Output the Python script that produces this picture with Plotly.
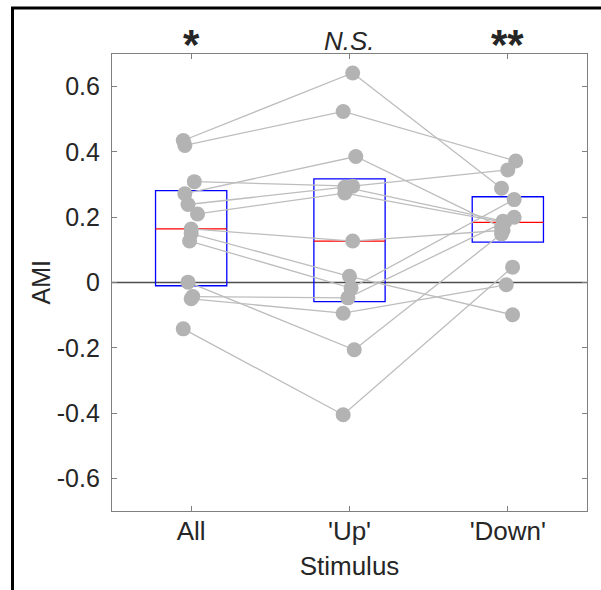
import numpy as np
import plotly.graph_objects as go

categories = ["All", "'Up'", "'Down'"]
significance = ["*", "N.S.", "**"]

# AMI per subject (13 subjects)
ami_all  = [0.435, 0.420, 0.272, 0.309, 0.239, 0.210, 0.164, 0.150, 0.127, 0.001, -0.043, -0.050, -0.142]
ami_up   = [0.642, 0.524, 0.386, 0.295, 0.292, 0.274, 0.127, 0.019, -0.017, -0.206, -0.047, -0.094, -0.405]
ami_down = [0.289, 0.372, 0.169, 0.345, 0.188, 0.184, 0.160, -0.099, 0.254, 0.149, 0.200, -0.007, 0.047]

# horizontal jitter of each point (category units)
jit_all  = [-0.05, -0.04, -0.04, 0.02, -0.02, 0.04, 0.00, 0.00, -0.01, -0.02, 0.01, 0.00, -0.05]
jit_up   = [0.02, -0.04, 0.04, 0.02, -0.03, -0.03, 0.02, 0.00, 0.01, 0.03, -0.01, -0.04, -0.04]
jit_down = [-0.04, 0.05, -0.04, 0.00, -0.03, -0.02, -0.03, 0.03, 0.04, -0.04, 0.04, -0.01, 0.03]

groups = [ami_all, ami_up, ami_down]
jits = [jit_all, jit_up, jit_down]

W, H = 601, 590
ML, MR, MT, MB = 112, 14, 54, 79
FONT = "Liberation Sans, Arial, Helvetica, sans-serif"
TXT = "#262626"
PT = "#b3b3b3"

fig = go.Figure()

n = len(ami_all)
for i in range(n):
    xs = [k + 1 + jits[k][i] for k in range(3)]
    ys = [groups[k][i] for k in range(3)]
    fig.add_trace(go.Scatter(x=xs, y=ys, mode="lines",
                             line=dict(color="#bdbdbd", width=1.3),
                             hoverinfo="skip", showlegend=False))
for k in range(3):
    xs = [k + 1 + j for j in jits[k]]
    fig.add_trace(go.Scatter(x=xs, y=groups[k], mode="markers",
                             marker=dict(size=15, color=PT, line=dict(width=0)),
                             showlegend=False))

shapes = []
shapes.append(dict(type="line", xref="paper", yref="y", x0=0, x1=1, y0=0, y1=0,
                   line=dict(color="#4d4d4d", width=1.5), layer="below"))
hw = 0.225
for k in range(3):
    v = np.array(groups[k])
    q1, med, q3 = np.percentile(v, [25, 50, 75], method="hazen")
    c = k + 1
    shapes.append(dict(type="rect", xref="x", yref="y", x0=c - hw, x1=c + hw, y0=q1, y1=q3,
                       line=dict(color="#0000ff", width=1.3), layer="below"))
    shapes.append(dict(type="line", xref="x", yref="y", x0=c - hw, x1=c + hw, y0=med, y1=med,
                       line=dict(color="#ff0000", width=1.3), layer="below"))

pw = W - ML - MR
ph = H - MT - MB
def px(xp):
    return (xp - ML) / pw
def py(yp):
    return (H - MB - yp) / ph
shapes.append(dict(type="line", xref="paper", yref="paper", x0=px(11), x1=px(W + 2),
                   y0=py(8), y1=py(8), line=dict(color="black", width=3)))
shapes.append(dict(type="line", xref="paper", yref="paper", x0=px(12.5), x1=px(12.5),
                   y0=py(7), y1=py(H + 2), line=dict(color="black", width=3)))

annotations = []
for k, s in enumerate(significance):
    if s.startswith("*"):
        annotations.append(dict(x=k + 1, xref="x", y=py(38), yref="paper", yanchor="middle",
                                text="<b>" + s + "</b>", showarrow=False, yshift=-6,
                                font=dict(family=FONT, size=42, color=TXT)))
    else:
        annotations.append(dict(x=k + 1, xref="x", y=py(41), yref="paper", yanchor="middle",
                                text="<i>" + s + "</i>", showarrow=False,
                                font=dict(family=FONT, size=26, color=TXT)))
annotations.append(dict(x=px(40), xref="paper", y=0, yref="y", text="AMI", textangle=-90,
                        showarrow=False, xanchor="center", yanchor="middle",
                        font=dict(family=FONT, size=25, color=TXT)))

fig.update_layout(
    width=W, height=H,
    margin=dict(l=ML, r=MR, t=MT, b=MB, pad=0),
    paper_bgcolor="white", plot_bgcolor="white",
    shapes=shapes, annotations=annotations,
    font=dict(family=FONT, size=26, color=TXT),
    xaxis=dict(range=[0.5, 3.5], tickvals=[1, 2, 3], ticktext=categories,
               ticks="inside", ticklen=5, tickcolor="#808080", tickwidth=1,
               showline=True, linecolor="#808080", linewidth=1.2, mirror="ticks",
               showgrid=False, zeroline=False, ticklabelstandoff=-3,
               title=dict(text="Stimulus", standoff=11, font=dict(size=26)),
               tickfont=dict(size=26, color=TXT)),
    yaxis=dict(range=[-0.7, 0.7], tickvals=[-0.6, -0.4, -0.2, 0, 0.2, 0.4, 0.6],
               ticktext=["-0.6", "-0.4", "-0.2", "0", "0.2", "0.4", "0.6"],
               ticks="inside", ticklen=5, tickcolor="#808080", tickwidth=1,
               showline=True, linecolor="#808080", linewidth=1.2, mirror="ticks",
               showgrid=False, zeroline=False, ticklabelstandoff=6,
               tickfont=dict(size=25, color=TXT)),
)

fig.write_html("out.html")
